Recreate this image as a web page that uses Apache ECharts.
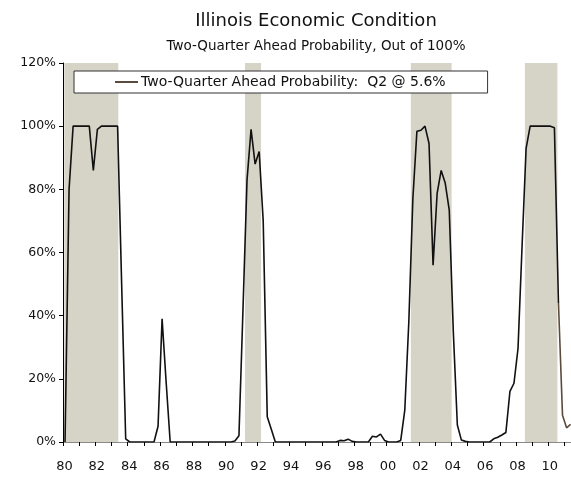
<!DOCTYPE html>
<html>
<head>
<meta charset="utf-8">
<script src="https://cdn.jsdelivr.net/npm/echarts@6/dist/echarts.min.js"></script>
<style>
html,body{margin:0;padding:0;background:#fff;}
#chart{width:571px;height:481px;}
</style>
</head>
<body>
<div id="chart"></div>
<script>
// ---- data ----
var startYear = 1980;           // first quarter = 1980 Q1
var probHistory = [
  0, 80, 100, 100,      // 1980
  100, 100, 100, 86,    // 1981
  99, 100, 100, 100,    // 1982
  100, 100, 50, 1,      // 1983
  0, 0, 0, 0,           // 1984
  0, 0, 0, 5,           // 1985
  39, 19, 0, 0,         // 1986
  0, 0, 0, 0,           // 1987
  0, 0, 0, 0,           // 1988
  0, 0, 0, 0,           // 1989
  0, 0, 0.3, 2,         // 1990
  42, 83, 99, 88,       // 1991
  92, 70, 8, 4,         // 1992
  0, 0, 0, 0,           // 1993
  0, 0, 0, 0,           // 1994
  0, 0, 0, 0,           // 1995
  0, 0, 0, 0,           // 1996
  0.5, 0.4, 0.9, 0.2,   // 1997
  0, 0, 0, 0,           // 1998
  1.8, 1.6, 2.5, 0.5,   // 1999
  0, 0, 0, 0.5,         // 2000
  10, 38, 77, 98.4,     // 2001
  98.7, 100, 94.5, 56,  // 2002
  78.7, 86, 82, 73.4,   // 2003
  35, 5.4, 0.6, 0.2,    // 2004
  0, 0, 0, 0,           // 2005
  0, 0, 1.0, 1.5,       // 2006
  2.2, 3, 16, 18.6,     // 2007
  29.6, 62, 93, 100,    // 2008
  100, 100, 100, 100,   // 2009
  100, 99.5, 44         // 2010 Q1-Q3
];
var latestStartIndex = 122;      // 2010 Q3
var probLatest = [44, 8.5, 4.5, 5.6]; // 2010 Q3 .. 2011 Q2
var recessionStart = [1980.08, 1991.25, 2001.5, 2008.55];
var recessionEnd   = [1983.42, 1992.24, 2004.02, 2010.56];
var yTicks = [0, 20, 40, 60, 80, 100, 120];
var legendName = 'Two-Quarter Ahead Probability:  Q2 @ 5.6%';

function qTime(i){ return startYear + i/4 + 0.125; }
var histData = probHistory.map(function(v,i){ return [qTime(i), v]; });
var latestData = probLatest.map(function(v,i){ return [qTime(latestStartIndex+i), v]; });
var bands = recessionStart.map(function(s,i){ return [{xAxis:s},{xAxis:recessionEnd[i]}]; });

var FONT = 'DejaVu Sans';
var chart = echarts.init(document.getElementById('chart'), null, {renderer:'canvas'});
chart.setOption({
  animation:false,
  backgroundColor:'#fff',
  textStyle:{fontFamily:FONT},
  title:[
    {text:'Illinois Economic Condition', left:311, top:7, textAlign:'center',
     textStyle:{fontFamily:FONT, fontSize:18, fontWeight:'normal', color:'#111'}},
    {text:'Two-Quarter Ahead Probability, Out of 100%', left:311, top:34, textAlign:'center',
     textStyle:{fontFamily:FONT, fontSize:13.5, fontWeight:'normal', color:'#111'}}
  ],
  legend:{
    left:74, top:71,
    padding:[4,42,4,41],
    borderColor:'#333', borderWidth:1, backgroundColor:'#fff',
    itemWidth:23, itemHeight:2, itemGap:0,
    icon:'rect',
    data:[{name:legendName}],
    textStyle:{fontFamily:FONT, fontSize:14, color:'#111', padding:[0,0,0,-2]}
  },
  grid:{left:63, right:0, top:63, bottom:39, containLabel:false},
  xAxis:[
    {type:'value', min:1980, max:2011.4, interval:1,
     axisLine:{show:true, onZero:false, lineStyle:{color:'#000', width:1}},
     axisTick:{show:true, length:4, lineStyle:{color:'#000'}},
     splitLine:{show:false},
     axisLabel:{fontFamily:FONT, fontSize:13, color:'#111', margin:18, showMaxLabel:false,
       padding:[0,0,0,3],
       formatter:function(v){ var y=Math.round(v); if(y%2!==0) return ''; var s=String(y%100); return s.length<2?'0'+s:s; }}
    },
    {type:'value', position:'top', min:1980, max:2011.4,
     axisLine:{show:true, lineStyle:{color:'#8a8a8a', width:1}},
     axisTick:{show:false}, axisLabel:{show:false}, splitLine:{show:false}}
  ],
  yAxis:{type:'value', min:yTicks[0], max:yTicks[yTicks.length-1], interval:20,
    axisLine:{show:true, lineStyle:{color:'#000', width:1}},
    axisTick:{show:true, length:4, inside:false, lineStyle:{color:'#000'}},
    splitLine:{show:false},
    axisLabel:{fontFamily:FONT, fontSize:12.5, color:'#111', margin:7,
      formatter:function(v){return v+'%';}}
  },
  series:[
    {name:'bands', type:'line', data:[], z:1, silent:true,
     markArea:{silent:true, itemStyle:{color:'#d6d3c7'}, data:bands}},
    {name:'history', type:'line', data:histData, showSymbol:false, z:3,
     lineStyle:{color:'#111', width:1.6}, itemStyle:{color:'#111'}},
    {name:legendName, type:'line', data:latestData, showSymbol:false, z:4,
     lineStyle:{color:'#5b4b3c', width:1.6}, itemStyle:{color:'#5b4b3c'}}
  ]
});
</script>
</body>
</html>
